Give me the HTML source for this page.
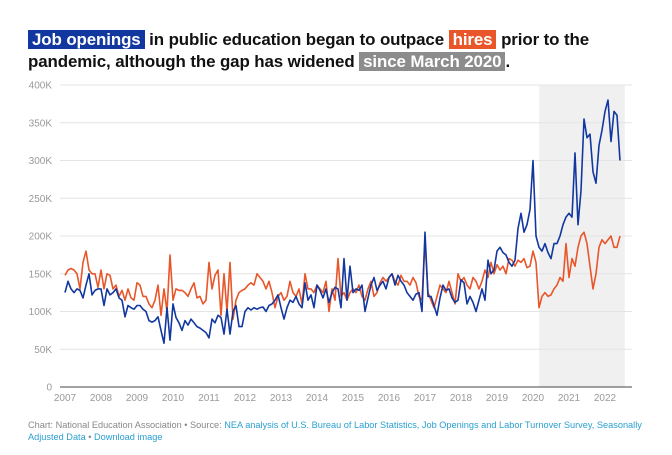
<!DOCTYPE html>
<html><head><meta charset="utf-8">
<style>
body{margin:0;background:#fff;width:672px;height:455px;overflow:hidden;font-family:"Liberation Sans",sans-serif}
.title{position:absolute;left:28px;top:29px;font-size:16.9px;font-weight:bold;line-height:22px;color:#111;letter-spacing:-0.1px}
.hl{color:#fff;padding:0 4px}
.foot{position:absolute;left:28px;top:419px;font-size:9.2px;line-height:12px;color:#888;width:620px}
.foot a{color:#2a9fd0;text-decoration:none}
</style></head><body>
<div class="title"><span class="hl" style="background:#1238a0">Job openings</span> in public education began to outpace <span class="hl" style="background:#e8562a">hires</span> prior to the<br>pandemic, although the gap has widened <span class="hl" style="background:#8c8c8c">since March 2020</span>.</div>
<svg id="chart" width="672" height="455" style="position:absolute;left:0;top:0"></svg>
<div class="foot">Chart: National Education Association • Source: <a>NEA analysis of U.S. Bureau of Labor Statistics, Job Openings and Labor Turnover Survey, Seasonally Adjusted Data</a> • <a>Download image</a></div>
<script>
const years=[2007,2008,2009,2010,2011,2012,2013,2014,2015,2016,2017,2018,2019,2020,2021,2022];
const yTicks=[0,50,100,150,200,250,300,350,400];
const yTickLabels=["0","50K","100K","150K","200K","250K","300K","350K","400K"];
const openings=[125,140,130,125,130,128,118,135,150,122,128,130,
130,108,130,122,125,130,118,115,93,108,105,103,
108,108,103,100,88,86,88,93,75,58,105,62,
110,92,85,75,88,82,90,85,80,78,75,72,
65,90,85,95,92,70,103,70,100,108,80,80,
100,105,102,105,103,105,106,100,108,110,115,122,
105,90,105,115,112,120,110,105,138,115,122,105,
135,128,118,130,112,125,132,130,105,170,115,160,
125,130,128,135,100,118,135,145,128,135,140,130,
145,150,135,148,140,135,125,120,115,123,125,100,
205,120,120,108,95,118,135,128,130,118,112,115,
142,138,110,120,112,100,115,130,115,168,150,155,
180,185,178,175,165,160,168,210,230,205,215,235,
300,200,185,180,190,178,170,190,190,200,215,225,
230,225,310,215,260,355,330,335,285,270,320,340,
365,380,325,365,360,300];
const hires=[148,155,157,155,150,130,165,180,155,150,150,132,
155,130,150,148,130,135,120,128,115,130,118,115,
138,135,120,120,110,105,115,135,95,130,100,175,
115,130,128,128,125,120,130,138,118,120,110,115,
165,130,148,155,95,150,100,165,90,115,125,128,
130,135,138,135,150,145,140,130,140,125,105,120,
125,115,120,140,125,120,130,110,150,130,130,125,
135,130,125,140,100,130,115,170,120,125,115,125,
130,125,135,120,115,130,140,120,125,138,145,140,
145,150,140,135,148,140,140,135,145,138,120,115,
195,125,115,105,120,135,130,125,140,125,110,150,
140,145,135,130,145,140,130,140,155,145,165,150,
162,155,160,150,170,168,160,168,165,170,158,160,
180,165,105,120,125,120,122,130,135,145,140,190,
145,170,160,185,200,205,190,160,130,150,185,195,
190,195,200,185,185,200];
const shadeStart=2020.17, shadeEnd=2022.55;
const svg=document.getElementById('chart');
const NS='http://www.w3.org/2000/svg';
const xS=t=>65+(t-2007)*36;
const yS=v=>387-v*0.755;
function mk(tag,attrs){const e=document.createElementNS(NS,tag);for(const k in attrs)e.setAttribute(k,attrs[k]);svg.appendChild(e);return e;}
let sh=mk('rect',{x:xS(shadeStart),y:yS(400),width:xS(shadeEnd)-xS(shadeStart),height:yS(0)-yS(400),fill:'#f0f0f0'});


yTicks.forEach((v,i)=>{
 let g=mk('line',{x1:60,x2:632,y1:yS(v),y2:yS(v),stroke:v===0?'#444':'#e4e4e4','stroke-width':1});
 
 
 let t=mk('text',{x:52,y:yS(v)+3.5,'text-anchor':'end','font-size':10,fill:'#999','font-family':'Liberation Sans, sans-serif'});
 t.textContent=yTickLabels[i];
 
 
});
years.forEach(y=>{
 let t=mk('text',{x:xS(y),y:401,'text-anchor':'middle','font-size':10,fill:'#999','font-family':'Liberation Sans, sans-serif'});
 t.textContent=y;
 
 
});
function line(arr,color,name){
 const pts=arr.map((v,i)=>xS(2007+i/12).toFixed(1)+','+yS(v).toFixed(1)).join(' ');
 let p=mk('polyline',{points:pts,fill:'none',stroke:color,'stroke-width':1.6,'stroke-linejoin':'round'});
 
 
}
line(hires,'#e8562a','hires-line');
line(openings,'#1238a0','job-openings-line');
</script>
</body></html>
